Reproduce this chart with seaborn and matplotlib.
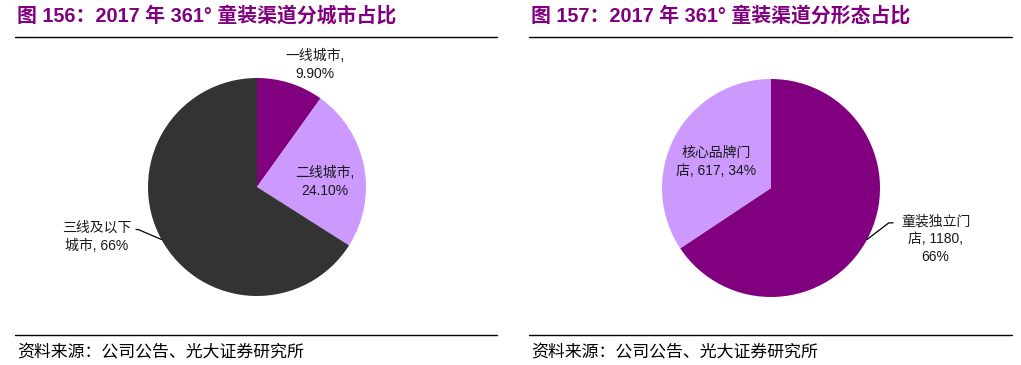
import numpy as np
import matplotlib
matplotlib.use("Agg")
import matplotlib.pyplot as plt
from matplotlib.lines import Line2D
import seaborn as sns

sns.set_theme(style="white")
plt.rcParams["font.family"] = ["Liberation Sans", "Noto Sans CJK SC", "DejaVu Sans"]

# City-tier split of 361° kids' channels
city_labels = ["一线城市", "二线城市", "三线及以下城市"]
city_shares = [9.9, 24.1, 66.0]
city_texts = ["一线城市,\n9.90%", "二线城市,\n24.10%", "三线及以下\n城市, 66%"]

# Store-format split
store_labels = ["童装独立门店", "核心品牌门店"]
store_counts = [1180, 617]
store_texts = ["童装独立门\n店, 1180,\n66%", "核心品牌门\n店, 617, 34%"]

titles = ["图 156：2017 年 361° 童装渠道分城市占比",
          "图 157：2017 年 361° 童装渠道分形态占比"]
source = "资料来源：公司公告、光大证券研究所"

purple = "#800080"
lilac = "#CC99FF"
charcoal = "#333333"
city_colors = sns.color_palette([purple, lilac, charcoal])
store_colors = sns.color_palette([purple, lilac])

W, H = 1021, 365
fig = plt.figure(figsize=(W / 100, H / 100), dpi=100)

R_PX = 109  # pie radius in pixels


def pie_axes(cx, cy, size=320):
    ax = fig.add_axes([(cx - size / 2) / W, 1 - (cy + size / 2) / H, size / W, size / H])
    ax.axis("off")
    return ax


def fix_limits(ax, size=320):
    lim = size / 2 / R_PX
    ax.set_xlim(-lim, lim)
    ax.set_ylim(-lim, lim)
    ax.set_aspect("equal")


def mid_angle(values, i):
    total = sum(values)
    start = 90 - 360 * sum(values[:i]) / total
    end = start - 360 * values[i] / total
    return np.deg2rad((start + end) / 2)


label_kw = dict(fontsize=10, color="#1a1a1a", ha="center", va="center", linespacing=1.35)

# Left pie
ax1 = pie_axes(257, 187)
ax1.pie(city_shares, colors=city_colors, startangle=90, counterclock=False, radius=1,
        wedgeprops=dict(linewidth=0))
fix_limits(ax1)
ax1.axis("off")
ax1.text(0.53, 1.12, city_texts[0], **label_kw)
ax1.text(0.62, 0.05, city_texts[1], **label_kw)
ax1.text(-1.47, -0.46, city_texts[2], **label_kw)
a = mid_angle(city_shares, 2)
ax1.plot([np.cos(a), -1.09, -1.11], [np.sin(a), -0.39, -0.39], color="black", lw=0.9)

# Right pie
ax2 = pie_axes(771, 188)
ax2.pie(store_counts, colors=store_colors, startangle=90, counterclock=False, radius=1,
        wedgeprops=dict(linewidth=0))
fix_limits(ax2)
ax2.axis("off")
ax2.text(-0.50, 0.24, store_texts[1], **label_kw)
ax2.text(1.51, -0.47, store_texts[0], **label_kw)
a = mid_angle(store_counts, 0)
ax2.plot([np.cos(a), 1.08, 1.12], [np.sin(a), -0.32, -0.32], color="black", lw=0.9)

# Headers, rules and source notes
for x0, x1, t in [(15, 497, titles[0]), (529, 1012, titles[1])]:
    fig.text((x0 + 2) / W, 1 - 16 / H, t, fontsize=14.3, fontweight="bold", color=purple,
             ha="left", va="center")
    fig.add_artist(Line2D([x0 / W, x1 / W], [1 - 37 / H, 1 - 37 / H], color="black", lw=1,
                          transform=fig.transFigure))
    fig.add_artist(Line2D([x0 / W, x1 / W], [1 - 335 / H, 1 - 335 / H], color="black", lw=1,
                          transform=fig.transFigure))
    fig.text((x0 + 2) / W, 1 - 352 / H, source, fontsize=12.2, color="black",
             ha="left", va="center")

fig.savefig("out.png", dpi=100)
